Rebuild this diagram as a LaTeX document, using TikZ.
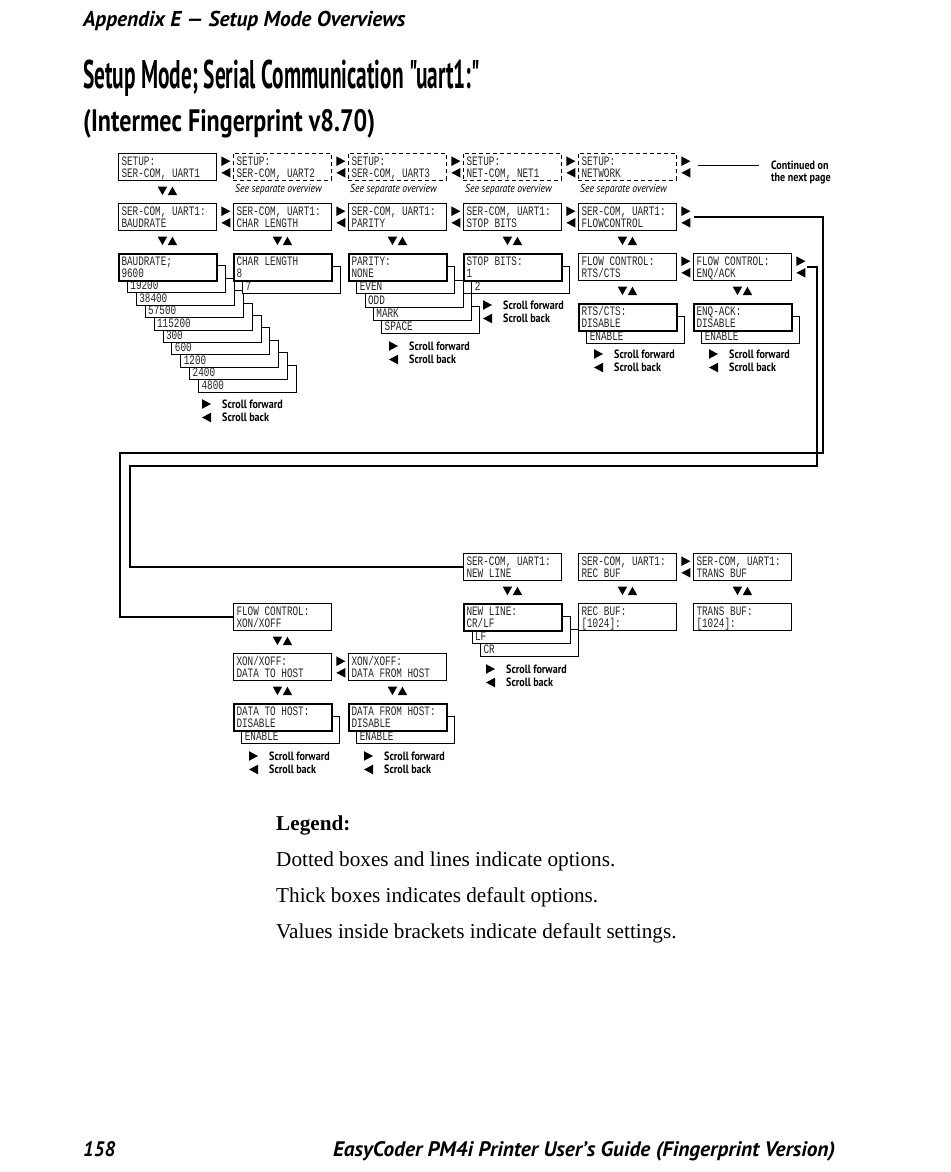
\documentclass[tikz,border=0pt]{standalone}
\usepackage{fontspec}
\usepackage{graphicx}
\setmainfont{Liberation Serif}
\newfontfamily\monofont[FakeStretch=0.725]{Liberation Mono}
\newfontfamily\sansfont{PT Sans}
\newfontfamily\condfont[FakeStretch=0.84]{PT Sans}

\tikzset{
  box/.style={draw, line width=0.9pt, fill=white, minimum width=98pt, minimum height=27pt, inner sep=0pt, anchor=north west},
  thickbox/.style={box, line width=2.4pt},
  optbox/.style={box, dash pattern=on 4pt off 3pt},
  btext/.style={anchor=base west, inner sep=0pt, text=black!85, font=\monofont\fontsize{12.9}{13}\selectfont},
  scroll/.style={anchor=base west, inner sep=0pt, font=\condfont\bfseries\fontsize{12}{12}\selectfont},
  seesep/.style={anchor=base west, inner sep=0pt, font=\condfont\itshape\fontsize{11.5}{11.5}\selectfont},
  conttext/.style={anchor=base west, inner sep=0pt, font=\condfont\bfseries\fontsize{12}{12}\selectfont},
  legtext/.style={anchor=base west, inner sep=0pt, font=\fontsize{21.2}{21.2}\selectfont},
  headtext/.style={anchor=base west, inner sep=0pt},
  conn/.style={line width=1.3pt},
}

% box with two text lines: style, name, x, y, line1, line2
\newcommand\bx[6][box]{%
  \node[#1] (#2) at (#3,#4) {};
  \node[btext] (#2-a) at ([shift={(3.3,12.2)}]#2.north west) {#5};
  \node[btext] (#2-b) at ([shift={(3.3,24.5)}]#2.north west) {#6};
}
% back box of a stack: name, x, y, text
\newcommand\bk[4]{%
  \node[box] (#1) at (#2,#3) {};
  \node[btext] (#1-t) at ([shift={(3.3,24.5)}]#1.north west) {#4};
}
% right/left arrows to the right of a box
\newcommand\lr[1]{%
  \fill ([shift={(9,8.2)}]#1.north east) ++(-4.5,-4.8) -- ++(9,4.8) -- ++(-9,4.8) -- cycle;
  \fill ([shift={(9,19.8)}]#1.north east) ++(4.5,-4.8) -- ++(-9,4.8) -- ++(9,4.8) -- cycle;
}
% down/up arrows below a box
\newcommand\du[1]{%
  \fill ([shift={(-5,10)}]#1.south) ++(-4.7,-4.2) -- ++(9.4,0) -- ++(-4.7,8.4) -- cycle;
  \fill ([shift={(5,10)}]#1.south) ++(-4.7,4.2) -- ++(9.4,0) -- ++(-4.7,-8.4) -- cycle;
}
% scroll legend: name, x, baseline
\newcommand\scr[3]{%
  \node[scroll] (#1-f) at (#2,#3) {Scroll forward};
  \node[scroll] (#1-b) at (#2,#3+13.5) {Scroll back};
  \fill ([shift={(-15.5,-4)}]#1-f.base west) ++(-4.5,-4.8) -- ++(9,4.8) -- ++(-9,4.8) -- cycle;
  \fill ([shift={(-15.5,-4)}]#1-b.base west) ++(4.5,-4.8) -- ++(-9,4.8) -- ++(9,4.8) -- cycle;
}

\begin{document}
\begin{tikzpicture}[x=1pt,y=-1pt]
\useasboundingbox (0,0) rectangle (950,1172);
\fill[white] (0,0) rectangle (950,1172);

% header and titles
\node[headtext] (hdr) at (83,27) {\resizebox{322pt}{\height}{\sansfont\bfseries\itshape\fontsize{21.5}{21.5}\selectfont Appendix E — Setup Mode Overviews}};
\node[headtext] (title) at (83,88) {\resizebox{397pt}{\height}{\sansfont\bfseries\fontsize{40}{40}\selectfont Setup Mode; Serial Communication "uart1:"}};
\node[headtext] (subtitle) at (83,131) {\resizebox{292pt}{\height}{\sansfont\bfseries\fontsize{31}{31}\selectfont (Intermec Fingerprint v8.70)}};

% row 1
\bx{s1}{118}{153}{SETUP:}{SER-COM, UART1}
\bx[optbox]{s2}{233}{153}{SETUP:}{SER-COM, UART2}
\bx[optbox]{s3}{348}{153}{SETUP:}{SER-COM, UART3}
\bx[optbox]{s4}{463}{153}{SETUP:}{NET-COM, NET1}
\bx[optbox]{s5}{578}{153}{SETUP:}{NETWORK}
\lr{s1}\lr{s2}\lr{s3}\lr{s4}\lr{s5}
\du{s1}
\node[seesep] (see2) at ([shift={(2,12)}]s2.south west) {See separate overview};
\node[seesep] (see3) at ([shift={(2,12)}]s3.south west) {See separate overview};
\node[seesep] (see4) at ([shift={(2,12)}]s4.south west) {See separate overview};
\node[seesep] (see5) at ([shift={(2,12)}]s5.south west) {See separate overview};
\draw[conn] ([shift={(21,-1.5)}]s5.east) -- ++(61,0);
\node[conttext] (cont1) at (771,169) {Continued on};
\node[conttext] (cont2) at (771,181) {the next page};

% row 2
\bx{r1}{118}{203}{SER-COM, UART1:}{BAUDRATE}
\bx{r2}{233}{203}{SER-COM, UART1:}{CHAR LENGTH}
\bx{r3}{348}{203}{SER-COM, UART1:}{PARITY}
\bx{r4}{463}{203}{SER-COM, UART1:}{STOP BITS}
\bx{r5}{578}{203}{SER-COM, UART1:}{FLOWCONTROL}
\lr{r1}\lr{r2}\lr{r3}\lr{r4}\lr{r5}
\du{r1}\du{r2}\du{r3}\du{r4}\du{r5}

% baudrate stack
\foreach \t/\k in {4800/9,2400/8,1200/7,600/6,300/5,115200/4,57500/3,38400/2,19200/1}{
  \bk{baud\k}{118+8.9*\k}{253+12.4*\k}{\t}
}
\bx[thickbox]{baud}{118}{253}{BAUDRATE;}{9600}
\scr{sbaud}{222}{408}

% char length
\bk{char1}{242}{266}{7}
\bx[thickbox]{char}{233}{253}{CHAR LENGTH}{8}

% parity
\foreach \t/\k in {SPACE/4,MARK/3,ODD/2,EVEN/1}{
  \bk{par\k}{348+8.3*\k}{253+13.3*\k}{\t}
}
\bx[thickbox]{par}{348}{253}{PARITY:}{NONE}
\scr{spar}{409}{350}

% stop bits
\bk{stop1}{471.3}{266.3}{2}
\bx[thickbox]{stop}{463}{253}{STOP BITS:}{1}
\scr{sstop}{503}{309}

% flow control
\bx{rts}{578}{253}{FLOW CONTROL:}{RTS/CTS}
\bx{enq}{693}{253}{FLOW CONTROL:}{ENQ/ACK}
\lr{rts}\lr{enq}
\du{rts}\du{enq}
\bk{rts1}{586.3}{316.3}{ENABLE}
\bx[thickbox]{rtsd}{578}{303}{RTS/CTS:}{DISABLE}
\bk{enq1}{701.3}{316.3}{ENABLE}
\bx[thickbox]{enqd}{693}{303}{ENQ-ACK:}{DISABLE}
\scr{srts}{614}{358}
\scr{senq}{729}{358}

% bottom section
\bx{nl}{463}{553}{SER-COM, UART1:}{NEW LINE}
\bx{rb}{578}{553}{SER-COM, UART1:}{REC BUF}
\bx{tb}{693}{553}{SER-COM, UART1:}{TRANS BUF}
\lr{rb}
\du{nl}\du{rb}\du{tb}
\bk{nlv2}{480}{629}{CR}
\bk{nlv1}{471.5}{616}{LF}
\bx[thickbox]{nlv}{463}{603}{NEW LINE:}{CR/LF}
\bx{rbv}{578}{603}{REC BUF:}{[1024]:}
\bx{tbv}{693}{603}{TRANS BUF:}{[1024]:}
\scr{snl}{506}{673}

% xon/xoff
\bx{xon}{233}{603}{FLOW CONTROL:}{XON/XOFF}
\du{xon}
\bx{dth}{233}{653}{XON/XOFF:}{DATA TO HOST}
\bx{dfh}{348}{653}{XON/XOFF:}{DATA FROM HOST}
\lr{dth}
\du{dth}\du{dfh}
\bk{dthv1}{241.3}{716.3}{ENABLE}
\bx[thickbox]{dthv}{233}{703}{DATA TO HOST:}{DISABLE}
\bk{dfhv1}{356.3}{716.3}{ENABLE}
\bx[thickbox]{dfhv}{348}{703}{DATA FROM HOST:}{DISABLE}
\scr{sdth}{269}{760}
\scr{sdfh}{384}{760}

% connectors
\draw[conn] ([xshift=17pt]r5.east) -| (823,453) -| ([xshift=-113pt]xon.west) -- (xon.west);
\draw[conn] ([xshift=15pt]enq.east) -| (817,466) -| ([xshift=-333pt]nl.west) -- (nl.west);

% legend
\node[legtext] (leg0) at (276,830) {\textbf{Legend:}};
\node[legtext] (leg1) at (276,866) {Dotted boxes and lines indicate options.};
\node[legtext] (leg2) at (276,902) {Thick boxes indicates default options.};
\node[legtext] (leg3) at (276,938) {Values inside brackets indicate default settings.};

% footer
\node[headtext] (page) at (83,1156) {\resizebox{32pt}{\height}{\sansfont\bfseries\itshape\fontsize{21}{21}\selectfont 158}};
\node[headtext] (guide) at (333,1156) {\resizebox{502pt}{\height}{\sansfont\bfseries\itshape\fontsize{21}{21}\selectfont EasyCoder PM4i Printer User’s Guide (Fingerprint Version)}};
\end{tikzpicture}
\end{document}
